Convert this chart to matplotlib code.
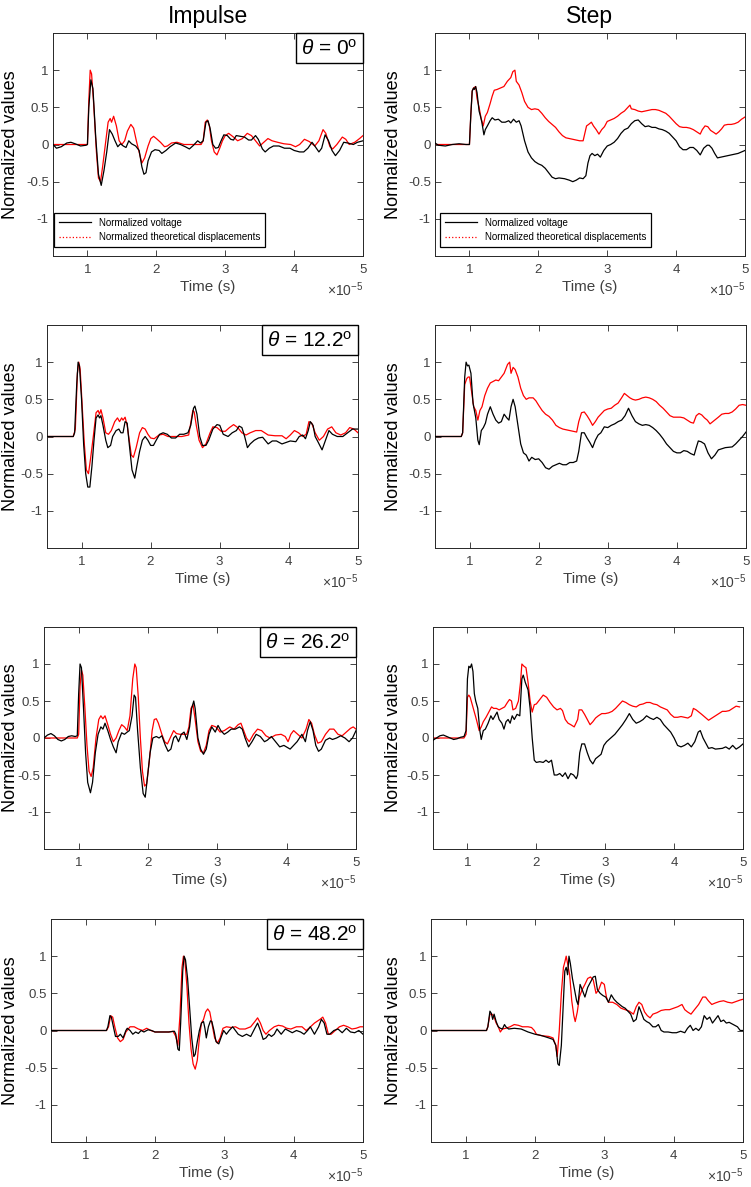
import numpy as np
import matplotlib
matplotlib.use('Agg')
import matplotlib.pyplot as plt
from matplotlib.ticker import ScalarFormatter, FixedLocator, FixedFormatter
from matplotlib.lines import Line2D
from matplotlib.offsetbox import AnchoredText

plt.rcParams['font.family'] = ['Liberation Sans', 'DejaVu Sans']
plt.rcParams['mathtext.fontset'] = 'custom'
plt.rcParams['mathtext.rm'] = 'Liberation Sans'
plt.rcParams['mathtext.it'] = 'Liberation Sans:italic'
plt.rcParams['mathtext.bf'] = 'Liberation Sans:bold'

# ---------------- data (time in units of 1e-5 s, value normalized) ----------------
TIME_SCALE = 1e-5
column_titles = ["Impulse", "Step"]
angles = ["0", "12.2", "26.2", "48.2"]
x_ticks = [1, 2, 3, 4, 5]
y_ticks = [-1, -0.5, 0, 0.5, 1]
y_tick_labels = ["-1", "-0.5", "0", "0.5", "1"]
legend_labels = ["Normalized voltage", "Normalized theoretical displacements"]

imp_00_voltage = [(0.50, 0.00), (0.55, -0.05), (0.62, -0.03), (0.70, 0.02), (0.76, 0.03), (0.82, 0.01),
    (0.90, -0.02), (0.98, -0.01), (1.00, 0.00), (1.02, 0.50), (1.05, 0.87), (1.08, 0.75), (1.12, 0.10),
    (1.16, -0.40), (1.20, -0.55), (1.24, -0.35), (1.28, -0.10), (1.32, 0.20), (1.36, 0.14), (1.40, 0.05),
    (1.44, -0.03), (1.48, 0.01), (1.52, -0.02), (1.56, -0.04), (1.60, 0.05), (1.64, 0.01), (1.70, -0.02),
    (1.75, -0.08), (1.79, -0.30), (1.82, -0.40), (1.85, -0.38), (1.88, -0.22), (1.93, -0.10), (1.98, -0.07),
    (2.04, -0.08), (2.08, -0.12), (2.14, -0.08), (2.20, -0.03), (2.28, 0.02), (2.35, 0.00), (2.42, -0.03),
    (2.48, -0.06), (2.54, -0.01), (2.60, 0.05), (2.64, 0.02), (2.68, 0.05), (2.72, 0.30), (2.75, 0.32),
    (2.78, 0.22), (2.82, 0.00), (2.86, -0.05), (2.90, -0.04), (2.94, 0.05), (2.98, 0.13), (3.03, 0.12),
    (3.08, 0.07), (3.12, 0.06), (3.16, 0.12), (3.22, 0.11), (3.28, 0.10), (3.34, 0.06), (3.38, 0.06),
    (3.44, 0.12), (3.48, 0.07), (3.54, -0.06), (3.58, -0.10), (3.64, -0.05), (3.70, -0.02), (3.78, -0.02),
    (3.86, -0.05), (3.94, -0.05), (4.00, -0.08), (4.08, -0.10), (4.14, -0.10), (4.20, -0.05), (4.26, 0.03),
    (4.30, -0.02), (4.36, -0.10), (4.40, -0.05), (4.45, 0.13), (4.50, 0.05), (4.55, -0.08), (4.60, -0.15),
    (4.66, -0.08), (4.72, 0.03), (4.78, 0.02), (4.86, 0.00), (4.92, 0.03), (5.00, 0.05)]

imp_00_disp = [(0.50, 0.00), (1.00, 0.00), (1.02, 0.60), (1.04, 1.00), (1.06, 0.95), (1.09, 0.55),
    (1.13, -0.10), (1.16, -0.45), (1.19, -0.50), (1.22, -0.30), (1.26, 0.00), (1.30, 0.30), (1.33, 0.35),
    (1.35, 0.30), (1.38, 0.38), (1.42, 0.25), (1.46, 0.05), (1.50, 0.00), (1.54, 0.05), (1.58, 0.18),
    (1.63, 0.27), (1.67, 0.22), (1.71, 0.05), (1.75, -0.10), (1.79, -0.25), (1.83, -0.18), (1.88, -0.02),
    (1.92, 0.08), (1.96, 0.11), (2.00, 0.08), (2.06, 0.03), (2.12, -0.03), (2.16, -0.02), (2.22, 0.02),
    (2.30, 0.03), (2.40, 0.00), (2.65, 0.00), (2.68, 0.05), (2.71, 0.30), (2.74, 0.33), (2.77, 0.25),
    (2.80, 0.05), (2.84, -0.10), (2.88, -0.14), (2.92, -0.05), (2.96, 0.05), (3.00, 0.12), (3.05, 0.15),
    (3.12, 0.10), (3.18, 0.05), (3.25, 0.08), (3.32, 0.15), (3.38, 0.12), (3.44, 0.05), (3.50, -0.02),
    (3.56, 0.03), (3.62, 0.08), (3.68, 0.05), (3.76, 0.03), (3.85, 0.01), (3.95, 0.00), (4.02, -0.03),
    (4.08, 0.00), (4.15, 0.07), (4.22, 0.04), (4.30, -0.02), (4.36, 0.05), (4.42, 0.20), (4.46, 0.15),
    (4.52, -0.03), (4.56, -0.06), (4.62, 0.00), (4.70, 0.10), (4.75, 0.07), (4.80, 0.00), (4.88, 0.03),
    (4.95, 0.08), (5.00, 0.12)]

step_00_voltage = [(0.50, 0.02), (0.55, -0.01), (0.65, -0.02), (0.75, 0.00), (0.85, 0.01), (0.95, 0.00),
    (1.00, 0.00), (1.02, 0.40), (1.04, 0.72), (1.06, 0.76), (1.07, 0.74), (1.09, 0.78), (1.11, 0.70),
    (1.14, 0.45), (1.16, 0.38), (1.18, 0.30), (1.21, 0.13), (1.23, 0.20), (1.26, 0.25), (1.30, 0.32),
    (1.33, 0.36), (1.37, 0.33), (1.42, 0.34), (1.47, 0.30), (1.52, 0.30), (1.57, 0.32), (1.60, 0.29),
    (1.64, 0.34), (1.68, 0.30), (1.72, 0.32), (1.75, 0.25), (1.80, 0.05), (1.85, -0.10), (1.90, -0.18),
    (1.95, -0.23), (2.00, -0.26), (2.05, -0.28), (2.10, -0.32), (2.15, -0.38), (2.20, -0.44), (2.25, -0.46),
    (2.30, -0.45), (2.38, -0.46), (2.45, -0.48), (2.50, -0.50), (2.55, -0.48), (2.60, -0.45), (2.65, -0.46),
    (2.69, -0.42), (2.72, -0.25), (2.75, -0.15), (2.78, -0.12), (2.82, -0.15), (2.86, -0.13), (2.90, -0.17),
    (2.95, -0.08), (3.00, -0.02), (3.05, 0.00), (3.10, 0.03), (3.15, 0.08), (3.20, 0.15), (3.25, 0.20),
    (3.30, 0.22), (3.35, 0.28), (3.40, 0.32), (3.45, 0.33), (3.50, 0.28), (3.55, 0.24), (3.60, 0.25),
    (3.65, 0.23), (3.70, 0.23), (3.75, 0.21), (3.80, 0.20), (3.85, 0.18), (3.90, 0.15), (3.95, 0.10),
    (4.00, 0.05), (4.05, -0.03), (4.10, -0.07), (4.15, -0.07), (4.20, -0.04), (4.25, -0.04), (4.30, -0.08),
    (4.35, -0.14), (4.40, -0.05), (4.45, -0.01), (4.48, -0.01), (4.52, -0.05), (4.56, -0.12), (4.60, -0.18),
    (4.65, -0.17), (4.70, -0.16), (4.80, -0.14), (4.90, -0.12), (5.00, -0.08)]

step_00_disp = [(0.50, 0.00), (1.00, 0.00), (1.02, 0.40), (1.04, 0.72), (1.06, 0.76), (1.09, 0.78),
    (1.11, 0.62), (1.14, 0.50), (1.17, 0.35), (1.20, 0.25), (1.23, 0.38), (1.26, 0.43), (1.30, 0.55),
    (1.33, 0.65), (1.36, 0.73), (1.40, 0.74), (1.45, 0.76), (1.50, 0.78), (1.55, 0.85), (1.60, 0.90),
    (1.63, 0.98), (1.66, 1.00), (1.68, 0.85), (1.72, 0.80), (1.76, 0.70), (1.80, 0.58), (1.85, 0.50),
    (1.90, 0.47), (1.95, 0.48), (2.00, 0.47), (2.05, 0.42), (2.10, 0.36), (2.15, 0.31), (2.20, 0.27),
    (2.25, 0.23), (2.30, 0.17), (2.35, 0.12), (2.40, 0.09), (2.45, 0.08), (2.50, 0.07), (2.55, 0.06),
    (2.60, 0.05), (2.65, 0.05), (2.70, 0.25), (2.73, 0.27), (2.77, 0.30), (2.80, 0.25), (2.84, 0.20),
    (2.88, 0.14), (2.92, 0.20), (2.96, 0.24), (3.00, 0.31), (3.05, 0.33), (3.10, 0.35), (3.15, 0.38),
    (3.20, 0.42), (3.25, 0.45), (3.30, 0.50), (3.33, 0.53), (3.35, 0.48), (3.40, 0.47), (3.45, 0.45),
    (3.50, 0.44), (3.55, 0.45), (3.60, 0.46), (3.65, 0.47), (3.70, 0.47), (3.75, 0.46), (3.80, 0.44),
    (3.85, 0.42), (3.90, 0.38), (3.95, 0.33), (4.00, 0.28), (4.05, 0.24), (4.10, 0.23), (4.15, 0.23),
    (4.20, 0.22), (4.25, 0.20), (4.30, 0.17), (4.35, 0.14), (4.38, 0.20), (4.42, 0.25), (4.46, 0.24),
    (4.50, 0.19), (4.55, 0.16), (4.58, 0.14), (4.62, 0.17), (4.66, 0.21), (4.70, 0.26), (4.75, 0.27),
    (4.80, 0.27), (4.85, 0.28), (4.90, 0.30), (4.95, 0.34), (5.00, 0.37)]

imp_12_voltage = [(0.50, 0.00), (0.88, 0.00), (0.90, 0.05), (0.93, 0.70), (0.95, 1.00), (0.97, 0.95),
    (1.00, 0.50), (1.03, -0.10), (1.06, -0.50), (1.09, -0.68), (1.12, -0.68), (1.15, -0.40), (1.18, -0.05),
    (1.21, 0.25), (1.24, 0.29), (1.26, 0.25), (1.28, 0.28), (1.31, 0.15), (1.35, -0.05), (1.38, -0.15),
    (1.42, -0.12), (1.45, 0.00), (1.50, 0.08), (1.54, 0.10), (1.57, 0.05), (1.60, 0.05), (1.63, 0.20),
    (1.66, 0.18), (1.69, -0.10), (1.73, -0.45), (1.77, -0.56), (1.80, -0.40), (1.84, -0.20), (1.88, -0.05),
    (1.92, 0.00), (1.96, -0.05), (2.00, -0.12), (2.04, -0.12), (2.08, -0.05), (2.13, 0.03), (2.18, 0.05),
    (2.24, 0.03), (2.30, -0.02), (2.36, -0.02), (2.42, 0.03), (2.48, 0.03), (2.54, 0.05), (2.58, 0.15),
    (2.62, 0.38), (2.64, 0.41), (2.67, 0.30), (2.71, 0.00), (2.75, -0.12), (2.80, -0.12), (2.84, -0.05),
    (2.90, 0.10), (2.96, 0.16), (3.00, 0.15), (3.05, 0.03), (3.12, 0.00), (3.18, 0.05), (3.24, 0.08),
    (3.28, 0.14), (3.32, 0.12), (3.36, 0.00), (3.40, -0.15), (3.44, -0.10), (3.50, -0.05), (3.56, -0.02),
    (3.62, -0.01), (3.70, -0.10), (3.76, -0.06), (3.82, -0.06), (3.90, -0.10), (3.96, -0.08), (4.02, -0.06),
    (4.10, -0.07), (4.15, 0.00), (4.20, 0.02), (4.24, -0.03), (4.28, 0.08), (4.31, 0.20), (4.35, 0.15),
    (4.38, 0.00), (4.42, -0.07), (4.48, -0.18), (4.53, -0.05), (4.58, 0.08), (4.63, 0.03), (4.70, 0.00),
    (4.78, 0.00), (4.85, 0.05), (4.92, 0.10), (5.00, 0.10)]

imp_12_disp = [(0.50, 0.00), (0.88, 0.00), (0.91, 0.10), (0.94, 0.85), (0.96, 1.00), (0.98, 0.90),
    (1.01, 0.40), (1.04, -0.10), (1.07, -0.45), (1.10, -0.50), (1.13, -0.30), (1.17, 0.00), (1.21, 0.32),
    (1.24, 0.35), (1.26, 0.30), (1.28, 0.36), (1.31, 0.25), (1.35, 0.05), (1.39, 0.03), (1.43, 0.08),
    (1.48, 0.20), (1.52, 0.25), (1.55, 0.20), (1.58, 0.25), (1.60, 0.22), (1.63, 0.26), (1.66, 0.15),
    (1.69, -0.05), (1.72, -0.25), (1.75, -0.28), (1.79, -0.15), (1.84, 0.05), (1.88, 0.12), (1.92, 0.10),
    (1.96, 0.03), (2.00, -0.02), (2.05, -0.03), (2.12, 0.02), (2.18, 0.03), (2.25, 0.00), (2.35, 0.00),
    (2.45, 0.00), (2.55, 0.02), (2.58, 0.18), (2.61, 0.35), (2.63, 0.33), (2.66, 0.15), (2.70, -0.05),
    (2.75, -0.15), (2.80, -0.10), (2.86, 0.05), (2.90, 0.13), (2.96, 0.12), (3.02, 0.07), (3.08, 0.07),
    (3.14, 0.12), (3.20, 0.16), (3.26, 0.12), (3.32, 0.05), (3.38, 0.02), (3.44, 0.05), (3.52, 0.08),
    (3.60, 0.08), (3.70, 0.02), (3.80, 0.01), (3.90, 0.01), (3.96, -0.03), (4.02, 0.02), (4.08, 0.08),
    (4.14, 0.05), (4.20, 0.00), (4.25, 0.03), (4.29, 0.20), (4.33, 0.18), (4.38, 0.05), (4.44, -0.05),
    (4.50, 0.00), (4.56, 0.10), (4.62, 0.13), (4.68, 0.05), (4.75, 0.02), (4.82, 0.05), (4.88, 0.12),
    (4.94, 0.10), (5.00, 0.05)]

step_12_voltage = [(0.50, 0.00), (0.88, 0.00), (0.90, 0.05), (0.93, 0.80), (0.95, 1.00), (0.97, 0.95),
    (0.99, 0.96), (1.02, 0.85), (1.05, 0.45), (1.07, 0.35), (1.09, 0.25), (1.12, -0.05), (1.14, -0.11),
    (1.17, 0.08), (1.20, 0.12), (1.23, 0.18), (1.26, 0.30), (1.30, 0.40), (1.34, 0.30), (1.38, 0.22),
    (1.42, 0.18), (1.46, 0.20), (1.50, 0.30), (1.54, 0.25), (1.57, 0.22), (1.60, 0.40), (1.63, 0.50),
    (1.66, 0.40), (1.70, 0.15), (1.74, -0.10), (1.78, -0.22), (1.82, -0.25), (1.86, -0.33), (1.90, -0.28),
    (1.95, -0.31), (2.00, -0.30), (2.05, -0.35), (2.10, -0.42), (2.15, -0.44), (2.20, -0.40), (2.25, -0.38),
    (2.30, -0.36), (2.35, -0.38), (2.40, -0.38), (2.45, -0.35), (2.50, -0.35), (2.55, -0.33), (2.58, -0.20),
    (2.62, 0.05), (2.66, 0.05), (2.70, -0.02), (2.74, -0.08), (2.78, -0.15), (2.82, -0.05), (2.86, 0.02),
    (2.90, 0.05), (2.95, 0.13), (3.00, 0.12), (3.05, 0.15), (3.10, 0.17), (3.15, 0.20), (3.20, 0.22),
    (3.25, 0.28), (3.30, 0.38), (3.35, 0.28), (3.40, 0.20), (3.45, 0.17), (3.50, 0.15), (3.55, 0.16),
    (3.60, 0.15), (3.65, 0.12), (3.70, 0.08), (3.75, 0.03), (3.80, -0.03), (3.85, -0.10), (3.90, -0.15),
    (3.95, -0.20), (4.00, -0.22), (4.05, -0.22), (4.10, -0.19), (4.15, -0.20), (4.20, -0.23), (4.25, -0.25),
    (4.28, -0.15), (4.31, -0.06), (4.35, -0.07), (4.40, -0.10), (4.45, -0.22), (4.50, -0.30), (4.55, -0.25),
    (4.60, -0.18), (4.70, -0.15), (4.80, -0.14), (4.85, -0.10), (4.90, -0.05), (4.95, 0.00), (5.00, 0.06)]

step_12_disp = [(0.50, 0.00), (0.88, 0.00), (0.90, 0.05), (0.93, 0.70), (0.96, 0.78), (0.98, 0.80),
    (1.00, 0.80), (1.03, 0.60), (1.06, 0.40), (1.09, 0.35), (1.12, 0.22), (1.15, 0.35), (1.18, 0.40),
    (1.22, 0.55), (1.26, 0.65), (1.30, 0.72), (1.34, 0.74), (1.38, 0.76), (1.42, 0.75), (1.46, 0.80),
    (1.50, 0.85), (1.55, 0.97), (1.58, 1.00), (1.60, 0.85), (1.63, 0.93), (1.66, 0.90), (1.70, 0.80),
    (1.74, 0.65), (1.78, 0.55), (1.82, 0.50), (1.86, 0.52), (1.92, 0.52), (1.96, 0.48), (2.00, 0.42),
    (2.05, 0.35), (2.10, 0.30), (2.15, 0.27), (2.20, 0.22), (2.25, 0.15), (2.30, 0.12), (2.35, 0.10),
    (2.40, 0.09), (2.45, 0.08), (2.50, 0.07), (2.55, 0.06), (2.58, 0.20), (2.62, 0.32), (2.66, 0.33),
    (2.70, 0.28), (2.74, 0.22), (2.78, 0.15), (2.82, 0.20), (2.86, 0.26), (2.90, 0.30), (2.95, 0.35),
    (3.00, 0.37), (3.05, 0.38), (3.10, 0.42), (3.15, 0.45), (3.20, 0.52), (3.24, 0.58), (3.28, 0.55),
    (3.32, 0.52), (3.36, 0.50), (3.40, 0.49), (3.45, 0.50), (3.50, 0.52), (3.55, 0.53), (3.60, 0.52),
    (3.65, 0.50), (3.70, 0.47), (3.75, 0.42), (3.80, 0.38), (3.85, 0.33), (3.90, 0.28), (3.95, 0.26),
    (4.00, 0.26), (4.05, 0.26), (4.10, 0.25), (4.15, 0.22), (4.20, 0.19), (4.24, 0.18), (4.28, 0.28),
    (4.32, 0.31), (4.36, 0.29), (4.40, 0.25), (4.44, 0.22), (4.48, 0.17), (4.52, 0.20), (4.56, 0.23),
    (4.60, 0.26), (4.65, 0.30), (4.70, 0.31), (4.75, 0.31), (4.80, 0.33), (4.85, 0.37), (4.90, 0.42),
    (4.95, 0.43), (5.00, 0.42)]

imp_26_voltage = [(0.50, 0.00), (0.55, 0.04), (0.60, 0.06), (0.65, 0.03), (0.70, -0.02), (0.75, -0.04),
    (0.80, -0.02), (0.85, 0.02), (0.90, 0.03), (0.95, 0.02), (0.98, 0.03), (1.00, 0.60), (1.02, 1.00),
    (1.04, 0.95), (1.07, 0.40), (1.10, -0.20), (1.13, -0.60), (1.17, -0.74), (1.20, -0.60), (1.24, -0.20),
    (1.28, 0.05), (1.32, 0.15), (1.35, 0.12), (1.38, 0.20), (1.42, 0.10), (1.46, -0.02), (1.50, -0.12),
    (1.54, -0.20), (1.57, -0.05), (1.62, 0.07), (1.66, 0.05), (1.70, 0.08), (1.73, 0.10), (1.77, 0.30),
    (1.80, 0.58), (1.82, 0.55), (1.85, 0.10), (1.89, -0.40), (1.93, -0.75), (1.96, -0.80), (1.99, -0.55),
    (2.03, -0.20), (2.07, 0.00), (2.12, 0.02), (2.16, 0.00), (2.20, 0.03), (2.25, -0.10), (2.29, -0.18),
    (2.33, -0.15), (2.37, 0.00), (2.40, 0.03), (2.44, -0.05), (2.48, 0.05), (2.52, 0.08), (2.56, -0.02),
    (2.60, 0.15), (2.63, 0.40), (2.66, 0.50), (2.68, 0.40), (2.72, 0.00), (2.76, -0.15), (2.80, -0.22),
    (2.84, -0.15), (2.88, 0.05), (2.92, 0.15), (2.97, 0.08), (3.01, 0.17), (3.05, 0.10), (3.10, 0.05),
    (3.15, 0.08), (3.20, 0.12), (3.26, 0.12), (3.32, 0.15), (3.36, 0.12), (3.40, 0.00), (3.45, -0.12),
    (3.50, -0.05), (3.56, 0.05), (3.62, 0.02), (3.68, -0.05), (3.72, -0.03), (3.78, 0.02), (3.84, -0.05),
    (3.90, -0.12), (3.96, -0.10), (4.05, -0.15), (4.10, -0.10), (4.15, -0.05), (4.22, 0.05), (4.27, -0.05),
    (4.30, 0.10), (4.34, 0.22), (4.38, 0.10), (4.42, -0.10), (4.46, -0.18), (4.50, -0.15), (4.56, -0.03),
    (4.62, 0.00), (4.66, -0.02), (4.72, 0.00), (4.78, 0.03), (4.84, 0.00), (4.90, -0.05), (4.95, 0.00),
    (5.00, 0.10)]

imp_26_disp = [(0.50, 0.00), (0.98, 0.00), (1.00, 0.05), (1.02, 0.70), (1.04, 0.92), (1.06, 0.85),
    (1.09, 0.40), (1.12, -0.10), (1.15, -0.45), (1.18, -0.52), (1.21, -0.40), (1.25, 0.00), (1.29, 0.25),
    (1.32, 0.30), (1.35, 0.26), (1.38, 0.30), (1.42, 0.18), (1.46, 0.05), (1.50, -0.05), (1.54, 0.00),
    (1.58, 0.10), (1.62, 0.18), (1.66, 0.15), (1.70, 0.10), (1.74, 0.30), (1.78, 0.80), (1.81, 1.00),
    (1.83, 0.95), (1.86, 0.55), (1.89, 0.00), (1.92, -0.45), (1.95, -0.65), (1.98, -0.62), (2.02, -0.30),
    (2.06, 0.10), (2.09, 0.25), (2.12, 0.26), (2.15, 0.20), (2.20, 0.05), (2.24, -0.05), (2.28, -0.08),
    (2.32, 0.00), (2.37, 0.10), (2.41, 0.06), (2.46, 0.05), (2.52, 0.05), (2.56, 0.05), (2.59, 0.15),
    (2.62, 0.40), (2.65, 0.45), (2.68, 0.25), (2.72, -0.05), (2.76, -0.18), (2.80, -0.20), (2.84, -0.10),
    (2.88, 0.10), (2.92, 0.17), (2.98, 0.15), (3.04, 0.08), (3.10, 0.10), (3.18, 0.15), (3.24, 0.12),
    (3.30, 0.18), (3.34, 0.20), (3.38, 0.10), (3.42, 0.00), (3.46, -0.05), (3.52, 0.05), (3.58, 0.12),
    (3.64, 0.10), (3.70, 0.03), (3.76, 0.00), (3.84, 0.04), (3.92, 0.05), (3.98, 0.02), (4.02, -0.05),
    (4.06, 0.05), (4.10, 0.10), (4.16, 0.05), (4.22, 0.00), (4.28, 0.12), (4.32, 0.25), (4.36, 0.20),
    (4.40, 0.05), (4.45, -0.07), (4.50, -0.05), (4.56, 0.05), (4.62, 0.12), (4.68, 0.12), (4.74, 0.05),
    (4.80, 0.03), (4.86, 0.08), (4.92, 0.13), (4.96, 0.15), (5.00, 0.12)]

step_26_voltage = [(0.50, -0.03), (0.55, 0.00), (0.60, 0.03), (0.65, 0.04), (0.70, 0.02), (0.75, 0.00),
    (0.80, -0.02), (0.85, -0.01), (0.90, 0.01), (0.95, 0.02), (0.98, 0.10), (1.00, 0.80), (1.02, 0.97),
    (1.04, 0.95), (1.06, 1.00), (1.08, 0.90), (1.10, 0.60), (1.12, 0.50), (1.15, 0.40), (1.18, 0.10),
    (1.20, -0.02), (1.23, 0.10), (1.26, 0.12), (1.30, 0.20), (1.34, 0.30), (1.37, 0.25), (1.40, 0.30),
    (1.43, 0.35), (1.46, 0.25), (1.50, 0.20), (1.53, 0.12), (1.56, 0.22), (1.59, 0.25), (1.62, 0.20),
    (1.65, 0.30), (1.68, 0.25), (1.72, 0.32), (1.76, 0.30), (1.79, 0.80), (1.81, 0.85), (1.84, 0.75),
    (1.88, 0.65), (1.91, 0.40), (1.94, 0.00), (1.97, -0.30), (2.00, -0.33), (2.05, -0.32), (2.10, -0.33),
    (2.14, -0.30), (2.18, -0.33), (2.22, -0.30), (2.26, -0.50), (2.30, -0.50), (2.34, -0.48), (2.38, -0.52),
    (2.42, -0.47), (2.46, -0.55), (2.50, -0.48), (2.54, -0.50), (2.58, -0.55), (2.60, -0.50), (2.63, -0.20),
    (2.66, -0.08), (2.70, -0.08), (2.74, -0.20), (2.78, -0.30), (2.82, -0.35), (2.86, -0.28), (2.90, -0.25),
    (2.94, -0.22), (2.98, -0.10), (3.02, -0.05), (3.08, 0.00), (3.14, 0.05), (3.20, 0.12), (3.25, 0.18),
    (3.30, 0.25), (3.35, 0.33), (3.40, 0.25), (3.45, 0.20), (3.50, 0.22), (3.55, 0.25), (3.60, 0.30),
    (3.65, 0.27), (3.70, 0.25), (3.75, 0.28), (3.80, 0.25), (3.85, 0.18), (3.90, 0.13), (3.95, 0.08),
    (4.00, 0.00), (4.05, -0.10), (4.10, -0.12), (4.15, -0.10), (4.20, -0.07), (4.25, -0.12), (4.30, -0.05),
    (4.35, 0.08), (4.38, 0.10), (4.42, 0.00), (4.46, -0.07), (4.50, -0.14), (4.55, -0.13), (4.60, -0.15),
    (4.70, -0.14), (4.75, -0.12), (4.80, -0.15), (4.85, -0.10), (4.90, -0.15), (4.95, -0.12), (5.00, -0.08)]

step_26_disp = [(0.50, 0.00), (0.95, 0.00), (0.98, 0.05), (1.00, 0.55), (1.02, 0.58), (1.04, 0.55),
    (1.07, 0.45), (1.10, 0.35), (1.13, 0.25), (1.17, 0.10), (1.20, 0.15), (1.23, 0.22), (1.27, 0.28),
    (1.31, 0.35), (1.35, 0.42), (1.38, 0.40), (1.42, 0.40), (1.46, 0.38), (1.50, 0.40), (1.54, 0.42),
    (1.58, 0.48), (1.61, 0.52), (1.64, 0.50), (1.66, 0.38), (1.70, 0.40), (1.74, 0.50), (1.77, 0.75),
    (1.79, 1.00), (1.82, 0.97), (1.85, 0.95), (1.88, 0.75), (1.91, 0.50), (1.94, 0.35), (1.97, 0.45),
    (2.00, 0.46), (2.05, 0.52), (2.10, 0.58), (2.15, 0.55), (2.20, 0.48), (2.25, 0.42), (2.30, 0.38),
    (2.35, 0.40), (2.38, 0.37), (2.42, 0.25), (2.46, 0.20), (2.50, 0.18), (2.55, 0.15), (2.60, 0.25),
    (2.62, 0.38), (2.66, 0.38), (2.70, 0.32), (2.74, 0.25), (2.78, 0.18), (2.82, 0.22), (2.86, 0.27),
    (2.90, 0.30), (2.95, 0.33), (3.00, 0.33), (3.05, 0.34), (3.10, 0.36), (3.15, 0.40), (3.20, 0.45),
    (3.25, 0.50), (3.30, 0.48), (3.35, 0.45), (3.40, 0.43), (3.45, 0.42), (3.50, 0.45), (3.55, 0.46),
    (3.60, 0.48), (3.65, 0.48), (3.70, 0.46), (3.75, 0.45), (3.80, 0.42), (3.85, 0.40), (3.90, 0.38),
    (3.95, 0.32), (4.00, 0.28), (4.05, 0.28), (4.10, 0.29), (4.15, 0.28), (4.20, 0.27), (4.25, 0.30),
    (4.28, 0.40), (4.32, 0.38), (4.36, 0.35), (4.40, 0.32), (4.45, 0.28), (4.50, 0.24), (4.55, 0.27),
    (4.60, 0.30), (4.65, 0.33), (4.70, 0.36), (4.75, 0.36), (4.80, 0.37), (4.85, 0.40), (4.90, 0.43),
    (4.95, 0.42)]

imp_48_voltage = [(0.50, 0.00), (1.30, 0.00), (1.32, 0.05), (1.35, 0.20), (1.37, 0.18), (1.40, 0.05),
    (1.43, -0.08), (1.47, -0.08), (1.50, -0.05), (1.54, -0.10), (1.58, 0.00), (1.60, 0.03), (1.64, 0.00),
    (1.68, -0.05), (1.72, -0.02), (1.76, -0.04), (1.80, 0.00), (1.84, -0.02), (1.90, 0.01), (1.95, 0.00),
    (2.00, -0.02), (2.10, -0.02), (2.20, -0.02), (2.28, -0.01), (2.30, -0.05), (2.33, -0.25), (2.35, -0.27),
    (2.37, 0.10), (2.40, 0.80), (2.42, 1.00), (2.44, 0.95), (2.47, 0.70), (2.50, 0.30), (2.53, -0.10),
    (2.56, -0.35), (2.58, -0.32), (2.61, -0.15), (2.64, 0.00), (2.67, 0.10), (2.70, 0.12), (2.72, 0.03),
    (2.74, -0.10), (2.77, 0.05), (2.80, 0.13), (2.82, 0.12), (2.85, 0.00), (2.88, -0.15), (2.92, -0.18),
    (2.95, -0.10), (2.99, 0.00), (3.03, -0.05), (3.07, 0.00), (3.12, 0.05), (3.16, 0.00), (3.20, -0.05),
    (3.26, -0.08), (3.32, -0.05), (3.38, -0.08), (3.44, 0.03), (3.48, 0.10), (3.52, 0.00), (3.56, -0.12),
    (3.60, -0.10), (3.64, -0.05), (3.68, -0.08), (3.72, -0.05), (3.76, 0.02), (3.82, -0.05), (3.88, 0.02),
    (3.92, 0.00), (3.98, -0.03), (4.04, 0.00), (4.10, -0.02), (4.15, -0.05), (4.20, 0.00), (4.24, 0.05),
    (4.30, -0.05), (4.36, 0.05), (4.40, 0.15), (4.44, 0.10), (4.48, -0.05), (4.52, -0.05), (4.58, 0.00),
    (4.64, 0.02), (4.70, -0.03), (4.76, 0.03), (4.82, -0.02), (4.88, -0.03), (4.94, 0.00), (5.00, -0.05)]

imp_48_disp = [(0.50, 0.00), (1.30, 0.00), (1.33, 0.05), (1.36, 0.20), (1.39, 0.18), (1.42, 0.05),
    (1.46, -0.10), (1.50, -0.15), (1.54, -0.12), (1.58, -0.02), (1.64, 0.05), (1.70, 0.05), (1.76, 0.02),
    (1.82, 0.00), (1.88, 0.03), (1.94, 0.00), (2.00, -0.02), (2.10, -0.02), (2.20, -0.02), (2.26, -0.01),
    (2.30, -0.08), (2.33, -0.20), (2.36, 0.20), (2.39, 0.85), (2.41, 1.00), (2.43, 0.95), (2.46, 0.60),
    (2.49, 0.10), (2.52, -0.25), (2.55, -0.45), (2.58, -0.52), (2.61, -0.40), (2.64, -0.10), (2.67, 0.10),
    (2.70, 0.15), (2.73, 0.25), (2.76, 0.29), (2.79, 0.25), (2.82, 0.10), (2.86, -0.10), (2.90, -0.17),
    (2.94, -0.10), (2.98, 0.03), (3.03, 0.05), (3.10, 0.04), (3.16, 0.05), (3.22, 0.02), (3.30, 0.02),
    (3.38, 0.05), (3.44, 0.12), (3.48, 0.17), (3.52, 0.10), (3.56, 0.00), (3.60, -0.05), (3.65, 0.00),
    (3.72, 0.05), (3.78, 0.07), (3.84, 0.06), (3.90, 0.03), (3.96, 0.02), (4.04, 0.05), (4.12, 0.05),
    (4.18, 0.00), (4.22, 0.03), (4.30, 0.10), (4.38, 0.15), (4.42, 0.18), (4.46, 0.10), (4.50, -0.05),
    (4.54, -0.05), (4.60, 0.00), (4.66, 0.05), (4.72, 0.07), (4.78, 0.05), (4.84, 0.02), (4.90, 0.03),
    (4.96, 0.05), (5.00, 0.05)]

step_48_voltage = [(0.50, 0.00), (1.30, 0.00), (1.32, 0.05), (1.35, 0.26), (1.37, 0.23), (1.39, 0.15),
    (1.41, 0.22), (1.44, 0.12), (1.47, 0.05), (1.50, 0.03), (1.53, 0.02), (1.56, 0.08), (1.58, 0.05),
    (1.62, 0.02), (1.70, 0.03), (1.80, 0.02), (1.85, 0.00), (1.90, -0.02), (2.00, -0.05), (2.10, -0.07),
    (2.20, -0.10), (2.26, -0.12), (2.30, -0.20), (2.33, -0.45), (2.35, -0.47), (2.38, -0.20), (2.41, 0.40),
    (2.43, 0.80), (2.45, 0.85), (2.47, 0.75), (2.49, 1.00), (2.51, 0.90), (2.54, 0.70), (2.57, 0.55),
    (2.60, 0.40), (2.62, 0.35), (2.65, 0.62), (2.68, 0.55), (2.72, 0.45), (2.76, 0.58), (2.80, 0.65),
    (2.84, 0.72), (2.87, 0.73), (2.90, 0.55), (2.94, 0.50), (2.98, 0.47), (3.02, 0.45), (3.06, 0.38),
    (3.10, 0.48), (3.14, 0.42), (3.18, 0.38), (3.22, 0.35), (3.26, 0.32), (3.30, 0.30), (3.34, 0.26),
    (3.38, 0.22), (3.42, 0.12), (3.46, 0.15), (3.50, 0.32), (3.53, 0.25), (3.57, 0.15), (3.61, 0.12),
    (3.65, 0.10), (3.70, 0.05), (3.74, 0.05), (3.78, 0.08), (3.82, 0.00), (3.86, -0.02), (3.92, -0.02),
    (3.98, -0.03), (4.04, -0.03), (4.10, -0.01), (4.16, -0.03), (4.20, 0.03), (4.24, 0.07), (4.28, 0.00),
    (4.32, 0.03), (4.36, 0.00), (4.40, 0.05), (4.44, 0.20), (4.48, 0.15), (4.52, 0.18), (4.56, 0.10),
    (4.60, 0.15), (4.64, 0.20), (4.68, 0.12), (4.72, 0.14), (4.76, 0.10), (4.80, 0.11), (4.86, 0.08),
    (4.92, 0.05), (4.96, 0.00), (5.00, 0.00)]

step_48_disp = [(0.50, 0.00), (1.30, 0.00), (1.32, 0.05), (1.35, 0.22), (1.38, 0.22), (1.41, 0.18),
    (1.44, 0.10), (1.47, 0.05), (1.50, -0.02), (1.53, 0.02), (1.58, 0.03), (1.64, 0.05), (1.70, 0.08),
    (1.76, 0.07), (1.82, 0.05), (1.90, 0.05), (1.95, 0.04), (1.99, 0.00), (2.02, -0.05), (2.10, -0.07),
    (2.20, -0.08), (2.26, -0.10), (2.30, -0.20), (2.32, -0.35), (2.35, 0.00), (2.38, 0.50), (2.41, 0.85),
    (2.43, 0.92), (2.45, 1.00), (2.47, 0.90), (2.50, 0.75), (2.53, 0.40), (2.56, 0.20), (2.58, 0.12),
    (2.61, 0.25), (2.64, 0.45), (2.68, 0.55), (2.72, 0.62), (2.76, 0.70), (2.80, 0.72), (2.84, 0.68),
    (2.88, 0.50), (2.92, 0.55), (2.96, 0.65), (3.00, 0.62), (3.03, 0.45), (3.06, 0.38), (3.12, 0.38),
    (3.18, 0.35), (3.24, 0.30), (3.30, 0.28), (3.36, 0.26), (3.42, 0.22), (3.46, 0.32), (3.50, 0.38),
    (3.54, 0.35), (3.58, 0.25), (3.62, 0.20), (3.66, 0.17), (3.70, 0.22), (3.76, 0.24), (3.82, 0.27),
    (3.88, 0.28), (3.94, 0.28), (4.00, 0.30), (4.06, 0.32), (4.12, 0.35), (4.16, 0.28), (4.20, 0.25),
    (4.25, 0.22), (4.30, 0.28), (4.36, 0.35), (4.42, 0.45), (4.46, 0.45), (4.50, 0.40), (4.55, 0.35),
    (4.60, 0.37), (4.66, 0.39), (4.72, 0.40), (4.78, 0.38), (4.84, 0.37), (4.90, 0.39), (4.96, 0.41),
    (5.00, 0.42)]

panel_series = [
    [(imp_00_voltage, imp_00_disp), (step_00_voltage, step_00_disp)],
    [(imp_12_voltage, imp_12_disp), (step_12_voltage, step_12_disp)],
    [(imp_26_voltage, imp_26_disp), (step_26_voltage, step_26_disp)],
    [(imp_48_voltage, imp_48_disp), (step_48_voltage, step_48_disp)],
]

# ---------------- layout (pixels in a 751 x 1187 canvas) ----------------
W, H = 751, 1187
axes_px = [
    [(53, 33, 363, 256), (435, 33, 745, 256)],
    [(47, 325, 358, 548), (435, 325, 746, 548)],
    [(44, 627, 356, 849), (433, 627, 743, 849)],
    [(51, 919, 363, 1142), (431, 919, 743, 1142)],
]
ylabel_right_px = [19, 402]   # right edge of the rotated y label, per column

AX_COLOR = '#262626'
TXT_COLOR = '#404040'

fig = plt.figure(figsize=(W / 100, H / 100), dpi=100)

for r in range(4):
    for c in range(2):
        x0, y0, x1, y1 = axes_px[r][c]
        ax = fig.add_axes([x0 / W, 1 - y1 / H, (x1 - x0) / W, (y1 - y0) / H])
        volt, disp = panel_series[r][c]
        tv = np.array([p[0] for p in volt]) * TIME_SCALE
        vv = np.array([p[1] for p in volt])
        td = np.array([p[0] for p in disp]) * TIME_SCALE
        vd = np.array([p[1] for p in disp])
        ax.plot(tv, vv, color='black', lw=0.9, zorder=3)
        ax.plot(td, vd, color='#ff0000', lw=0.9, zorder=2)

        ax.set_xlim(0.5 * TIME_SCALE, 5 * TIME_SCALE)
        ax.set_ylim(-1.5, 1.5)
        ax.set_xticks([t * TIME_SCALE for t in x_ticks])
        fmt = ScalarFormatter(useMathText=True)
        fmt.set_powerlimits((0, 0))
        ax.xaxis.set_major_formatter(fmt)
        ax.yaxis.set_major_locator(FixedLocator(y_ticks))
        ax.yaxis.set_major_formatter(FixedFormatter(y_tick_labels))
        ax.tick_params(direction='in', top=True, right=True, length=4, width=0.6,
                       color=AX_COLOR, labelcolor=TXT_COLOR, labelsize=9.5)
        ax.tick_params(axis='y', pad=3)
        ax.tick_params(axis='x', pad=5)
        ax.xaxis.get_offset_text().set_fontsize(10)
        ax.xaxis.get_offset_text().set_color(TXT_COLOR)
        for s in ax.spines.values():
            s.set_color(AX_COLOR)
            s.set_linewidth(0.7)
        ax.set_xlabel('Time (s)', fontsize=11, color=TXT_COLOR, labelpad=3)
        ax.set_ylabel('Normalized values', fontsize=13, color='black')
        ax.yaxis.set_label_coords((ylabel_right_px[c] - x0) / (x1 - x0), 0.5)

        if c == 0:
            at = AnchoredText(r'$\theta$ = ' + angles[r] + r'$^{\mathrm{o}}$', loc='upper right',
                              prop=dict(size=15, color='black'), frameon=True, pad=0.25,
                              borderpad=0.0)
            at.patch.set_edgecolor('black')
            at.patch.set_linewidth(1.0)
            at.patch.set_boxstyle('square,pad=0')
            ax.add_artist(at)

        if r == 0:
            ax.set_title(column_titles[c], fontsize=16.5, color='black', pad=7)
            handles = [Line2D([], [], color='black', lw=0.9, ls='-'),
                       Line2D([], [], color='#ff0000', lw=0.9, ls=':')]
            leg = ax.legend(handles, legend_labels, loc='lower left',
                            bbox_to_anchor=(0.003 if c == 0 else 0.016, 0.04),
                            borderaxespad=0, fontsize=7, frameon=True, fancybox=False,
                            handlelength=3.3, handletextpad=0.8, borderpad=0.5,
                            labelspacing=0.45, edgecolor='black', framealpha=1)
            leg.get_frame().set_linewidth(0.9)

fig.savefig('out.png', dpi=100)
